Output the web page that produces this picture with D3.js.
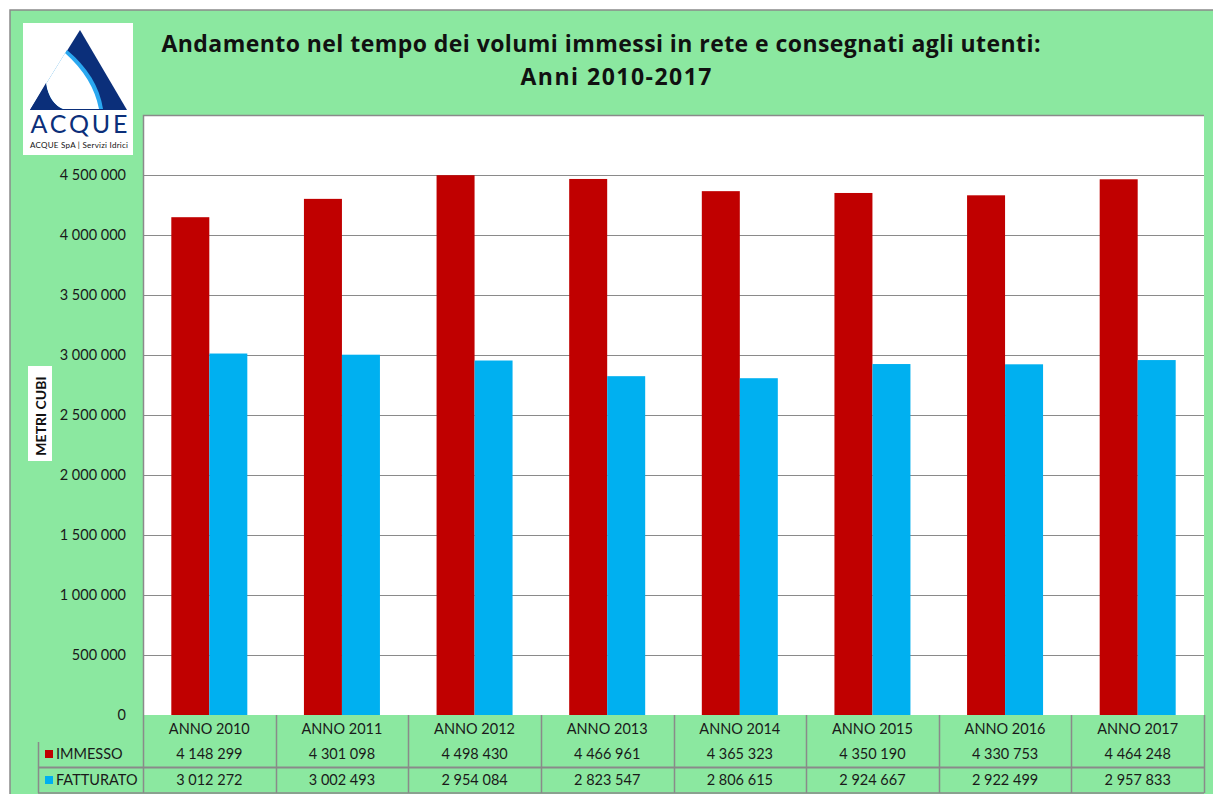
<!DOCTYPE html>
<html>
<head>
<meta charset="utf-8">
<script src="https://cdn.jsdelivr.net/npm/d3@7"></script>
<style>
  body {margin:0; background:#fff}
  text {font-family: Lato, "Open Sans", sans-serif}
</style>
</head>
<body>
<svg id="chart" width="1213" height="794"></svg>
<script>
/*** Data ***/
const years = ["ANNO 2010","ANNO 2011","ANNO 2012","ANNO 2013","ANNO 2014","ANNO 2015","ANNO 2016","ANNO 2017"]
const series = ["IMMESSO","FATTURATO"]
const immesso = [4148299, 4301098, 4498430, 4466961, 4365323, 4350190, 4330753, 4464248]
const fatturato = [3012272, 3002493, 2954084, 2823547, 2806615, 2924667, 2922499, 2957833]
const yTicks = [0,500000,1000000,1500000,2000000,2500000,3000000,3500000,4000000,4500000]
const colors = {IMMESSO: "#C00000", FATTURATO: "#00B0F0"}

const titleLines = ["Andamento nel tempo dei volumi immessi in rete e consegnati agli utenti:", "Anni 2010-2017"]

/*** Setup ***/
const svg = d3.select("#chart")
const green = "#8BE8A0"
const grid = "#8a8a8a"
const ink = "#1a1a1a"
const fs = 14.5
const fmt = d3.formatLocale({decimal: ",", thousands: " ", grouping: [3], currency: ["", "€"]}).format(",d")

const L = 143, R = 1204, T = 115, B = 715
const x = d3.scaleBand().domain(years).range([L, R])
const groupW = 76
const xs = d3.scaleBand().domain(series).range([0, groupW])
const y = d3.scaleLinear().domain([0, 5000000]).range([B, T])

// chart area
svg.append("rect").attr("x", 10).attr("y", 10).attr("width", 1220).attr("height", 800)
   .attr("fill", green).attr("stroke", grid).attr("stroke-width", 1.5)

// plot area
svg.append("rect").attr("x", L).attr("y", T).attr("width", R - L).attr("height", B - T).attr("fill", "#fff")

svg.append("g").selectAll("line").data(yTicks.slice(1)).join("line")
   .attr("x1", L).attr("x2", R)
   .attr("y1", d => Math.round(y(d)) + .5).attr("y2", d => Math.round(y(d)) + .5)
   .attr("stroke", grid)

svg.append("path").attr("d", `M${R},${T+.5}H${L+.5}V${B}`).attr("fill", "none").attr("stroke", grid).attr("stroke-width", 1.5)

// y tick labels
svg.append("g").selectAll("text").data(yTicks).join("text")
   .attr("x", 126).attr("y", d => y(d) + 5)
   .attr("text-anchor", "end").attr("font-size", fs).attr("fill", ink)
   .text(fmt)

// bars
const rows = series.map((s, i) => ({key: s, values: i == 0 ? immesso : fatturato}))
const off = (x.bandwidth() - groupW) / 2
svg.append("g").selectAll("g").data(rows).join("g")
   .attr("fill", d => colors[d.key])
   .selectAll("rect").data(d => d.values.map((v, j) => ({k: d.key, year: years[j], v: v}))).join("rect")
   .attr("x", d => x(d.year) + off + xs(d.k))
   .attr("width", xs.bandwidth())
   .attr("y", d => y(d.v))
   .attr("height", d => B - y(d.v))

/*** Data table ***/
const tb = svg.append("g").attr("stroke", grid).attr("fill", "none")
const tableTop = B, rowSep = 767.5, tableBot = 793
tb.selectAll("line.v").data(years.map(d => x(d)).concat([R])).join("line")
  .attr("x1", d => Math.round(d) + .5).attr("x2", d => Math.round(d) + .5)
  .attr("y1", tableTop).attr("y2", tableBot)
  .attr("stroke-width", 1.5)
tb.append("line").attr("x1", 38.5).attr("x2", 38.5).attr("y1", 742).attr("y2", tableBot).attr("stroke-width", 1.5)
tb.append("line").attr("x1", 38).attr("x2", R).attr("y1", rowSep).attr("y2", rowSep).attr("stroke-width", 2)
tb.append("line").attr("x1", 38).attr("x2", R).attr("y1", tableBot).attr("y2", tableBot).attr("stroke-width", 1.5)

svg.append("g").selectAll("text").data(years).join("text")
   .attr("x", d => x(d) + x.bandwidth() / 2).attr("y", 734)
   .attr("text-anchor", "middle").attr("font-size", fs).attr("fill", ink)
   .text(d => d)

const rowY = [759, 785]
rows.forEach((r, i) => {
  svg.append("g").selectAll("text").data(r.values).join("text")
     .attr("x", (d, j) => x(years[j]) + x.bandwidth() / 2).attr("y", rowY[i])
     .attr("text-anchor", "middle").attr("font-size", fs).attr("fill", ink)
     .text(fmt)
  svg.append("rect").attr("x", 45).attr("y", rowY[i] - 9).attr("width", 8).attr("height", 8).attr("fill", colors[r.key])
  svg.append("text").attr("x", 56).attr("y", rowY[i]).attr("font-size", fs).attr("fill", ink).text(r.key)
})

/*** Title & axis label ***/
svg.append("text").attr("x", 601).attr("y", 52).attr("text-anchor", "middle")
   .attr("font-size", 23).attr("font-weight", "bold").attr("fill", "#111")
   .style("font-family", "'Open Sans', sans-serif")
   .attr("textLength", 879).text(titleLines[0])
svg.append("text").attr("x", 616).attr("y", 85).attr("text-anchor", "middle")
   .attr("font-size", 23).attr("font-weight", "bold").attr("fill", "#111")
   .style("font-family", "'Open Sans', sans-serif")
   .attr("textLength", 191).text(titleLines[1])

svg.append("rect").attr("x", 28).attr("y", 366).attr("width", 24).attr("height", 95).attr("fill", "#fff")
svg.append("text").attr("transform", "translate(45.5,416) rotate(-90)").attr("text-anchor", "middle")
   .attr("font-size", 14).attr("font-weight", "bold").attr("fill", "#111").text("METRI CUBI")

/*** Logo ***/
const logo = svg.append("g")
logo.append("rect").attr("x", 23).attr("y", 23).attr("width", 110).attr("height", 132).attr("fill", "#fff")
logo.append("path").attr("d", "M80,30L127,110H30Z").attr("fill", "#0B2F7A")
logo.append("path").attr("d", "M67,50L46,84Q50,104 63,109L103,109Q98,76 67,50Z").attr("fill", "#2AA8F0")
logo.append("path").attr("d", "M67,50L46,84Q50,104 63,109L99,109Q93,78 65,53Z").attr("fill", "#fff")
logo.append("path").attr("d", "M30,110L46,83Q47,101 63,110Z").attr("fill", "#0B2F7A")
logo.append("text").attr("x", 79).attr("y", 133).attr("text-anchor", "middle")
    .attr("font-size", 25).attr("fill", "#0B2F7A").attr("textLength", 97).text("ACQUE")
logo.append("text").attr("x", 30).attr("y", 148)
    .attr("font-size", 8).attr("fill", "#111").attr("textLength", 98).text("ACQUE SpA | Servizi Idrici")
</script>
</body>
</html>
